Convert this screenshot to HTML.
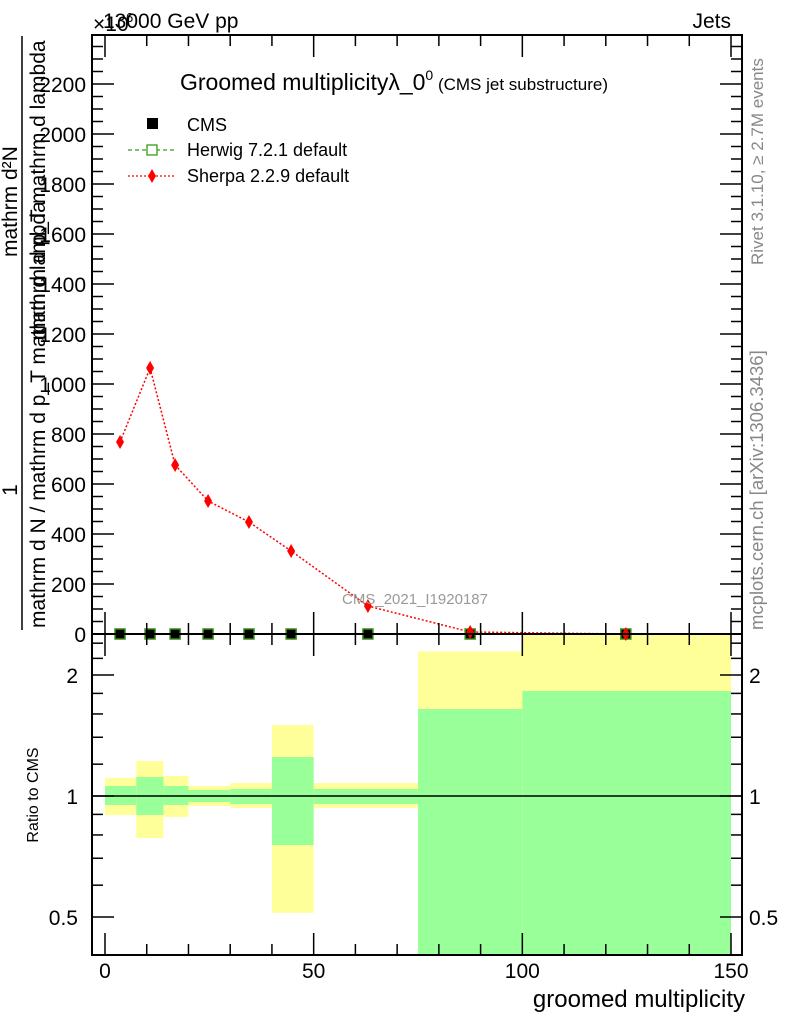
<!DOCTYPE html>
<html><head><meta charset="utf-8"><style>
body{margin:0;background:#fff}
svg text{font-family:"Liberation Sans",sans-serif}
</style></head><body>
<svg id="c" width="786" height="1024" xmlns="http://www.w3.org/2000/svg">
<g id="bands"></g>
<g id="main"></g>
<g id="axes" stroke="#000" fill="none"></g>
<g id="txt"></g>
</svg>
<script>
const binEdges=[0,7.5,14,20,30,40,50,75,100,150];
const xCenters=[3.6,10.8,16.8,24.7,34.5,44.6,63,87.5,124.8];
const sherpaVals=[768,1064,676,532,448,332,112,8,0];
const cmsVals=[0,0,0,0,0,0,0,0,0];
const yellowHi=[1.109,1.222,1.121,1.059,1.077,1.502,1.077,2.29,3.0];
const yellowLo=[0.897,0.786,0.887,0.944,0.934,0.512,0.934,0.3,0.3];
const greenHi=[1.059,1.115,1.059,1.035,1.041,1.25,1.041,1.646,1.825];
const greenLo=[0.950,0.897,0.950,0.966,0.955,0.755,0.955,0.3,0.3];
const yTicks=[0,200,400,600,800,1000,1200,1400,1600,1800,2000,2200];
const xTicks=[0,50,100,150];
const rTicks=[0.5,1,2];

const L=92,R=742,T=35,MB=634,RB=955;
const X=v=>105+(v)*(731-105)/150;
const Y=v=>634-v*0.25;
const RY=r=>Math.min(RB,Math.max(MB,796-121*Math.log2(r)));
const NS="http://www.w3.org/2000/svg";
function mk(tag,parent,attrs){const e=document.createElementNS(NS,tag);for(const k in attrs)e.setAttribute(k,attrs[k]);document.getElementById(parent).appendChild(e);return e;}

for(let i=0;i<binEdges.length-1;i++){
  const x0=X(binEdges[i]),x1=X(binEdges[i+1]);
  let r=mk('rect','bands',{x:x0,y:RY(yellowHi[i]),width:x1-x0,height:RY(yellowLo[i])-RY(yellowHi[i]),fill:'#ffff99'});
  
  
  r=mk('rect','bands',{x:x0,y:RY(greenHi[i]),width:x1-x0,height:RY(greenLo[i])-RY(greenHi[i]),fill:'#99ff99'});
  
  
}
let ln=mk('line','main',{x1:L,x2:R,y1:796,y2:796,stroke:'#000','stroke-width':1.5});



let pts=xCenters.map((x,i)=>X(x)+','+Y(sherpaVals[i])).join(' ');
let pl=mk('polyline','main',{points:pts,fill:'none',stroke:'#f00','stroke-width':1.5,'stroke-dasharray':'2,2'});


xCenters.forEach((x,i)=>{
  const cx=X(x),cy=Y(cmsVals[i]);
  let s=mk('rect','main',{x:cx-5,y:cy-5,width:10,height:10,fill:'#000',stroke:'#3a8a1a','stroke-width':1.5});
  
  
  const sx=X(x),sy=Y(sherpaVals[i]);
  let d=mk('polygon','main',{points:`${sx},${sy-7} ${sx+4},${sy} ${sx},${sy+7} ${sx-4},${sy}`,fill:'#f00'});
  
  
});

let f=mk('rect','axes',{x:L,y:T,width:R-L,height:MB-T,'stroke-width':2});

f=mk('rect','axes',{x:L,y:MB,width:R-L,height:RB-MB,'stroke-width':2});

for(let v=0;v<=2350;v+=50){const y=Y(v);const big=v%200==0;const w=big?22:11;
  mk('line','axes',{x1:L,x2:L+w,y1:y,y2:y,'stroke-width':1.5});mk('line','axes',{x1:R,x2:R-w,y1:y,y2:y,'stroke-width':1.5});}
yTicks.forEach(v=>{let t=mk('text','txt',{x:86,y:Y(v)+8,'text-anchor':'end','font-size':21});t.textContent=v;
  });
for(let v=0;v<=150;v+=5){const x=X(v);const big=v%50==0;const w=big?22:(v%10==0?11:0);if(!w)continue;
  mk('line','axes',{x1:x,x2:x,y1:MB,y2:MB-w,'stroke-width':1.5});mk('line','axes',{x1:x,x2:x,y1:T,y2:T+w,'stroke-width':1.5});
  mk('line','axes',{x1:x,x2:x,y1:RB,y2:RB-w,'stroke-width':1.5});mk('line','axes',{x1:x,x2:x,y1:MB,y2:MB+w,'stroke-width':1.5});}
xTicks.forEach(v=>{let t=mk('text','txt',{x:X(v),y:978,'text-anchor':'middle','font-size':21});t.textContent=v;
  });
[0.4,0.5,0.6,0.7,0.8,0.9,1,1.2,1.4,1.6,1.8,2,2.2,2.4].forEach(r=>{const y=RY(r);const big=(r==0.5||r==1||r==2);const w=big?22:11;
  mk('line','axes',{x1:L,x2:L+w,y1:y,y2:y,'stroke-width':1.5});mk('line','axes',{x1:R,x2:R-w,y1:y,y2:y,'stroke-width':1.5});});
rTicks.forEach(r=>{let t=mk('text','txt',{x:78,y:RY(r)+8,'text-anchor':'end','font-size':21});t.textContent=r;
  
  t=mk('text','txt',{x:749,y:RY(r)+8,'font-size':21});t.textContent=r;
  });
</script>
<svg width="786" height="1024" style="position:absolute;left:0;top:0" xmlns="http://www.w3.org/2000/svg">
<text x="93" y="31" font-size="21">×10</text>
<text x="126" y="22" font-size="13">6</text>
<text x="103" y="28" font-size="21">13000 GeV pp</text>
<text x="731" y="28" font-size="21" text-anchor="end">Jets</text>
<text x="180" y="90" font-size="23">Groomed multiplicityλ_0<tspan font-size="14" dy="-10">0</tspan><tspan font-size="17" dy="10"> (CMS jet substructure)</tspan></text>
<rect x="147" y="118" width="11" height="11" fill="#000"/>
<text x="187" y="131" font-size="18">CMS</text>
<line x1="128" x2="175" y1="150" y2="150" stroke="#3a9a1a" stroke-dasharray="4,3" stroke-width="1.3"/>
<rect x="147" y="145" width="10" height="10" fill="#fff" stroke="#3a9a1a" stroke-width="1.3"/>
<text x="187" y="156" font-size="18">Herwig 7.2.1 default</text>
<line x1="128" x2="175" y1="176" y2="176" stroke="#f00" stroke-dasharray="2,2" stroke-width="1.3"/>
<polygon points="152,169 156,176 152,183 148,176" fill="#f00"/>
<text x="187" y="182" font-size="18">Sherpa 2.2.9 default</text>
<text x="415" y="604" font-size="15" fill="#999" text-anchor="middle">CMS_2021_I1920187</text>
<text transform="translate(763,265) rotate(-90)" font-size="17" fill="#888">Rivet 3.1.10, ≥ 2.7M events</text>
<text transform="translate(763,630) rotate(-90)" font-size="18.5" fill="#888">mcplots.cern.ch [arXiv:1306.3436]</text>
<line x1="22" x2="22" y1="36" y2="630" stroke="#000" stroke-width="1.5"/>
<text transform="translate(17,490) rotate(-90)" font-size="21" text-anchor="middle">1</text>
<text transform="translate(17,257) rotate(-90)" font-size="21">mathrm d²N</text>
<text transform="translate(45,628) rotate(-90)" font-size="21">mathrm d N / mathrm d p_T mathrm d lambda</text>
<text transform="translate(45,340) rotate(-90)" font-size="21">mathrm d p_T mathrm d lambda</text>
<text transform="translate(38,795) rotate(-90)" font-size="16" text-anchor="middle">Ratio to CMS</text>
<text x="745" y="1007" font-size="24" text-anchor="end">groomed multiplicity</text>
</svg>
</body></html>
